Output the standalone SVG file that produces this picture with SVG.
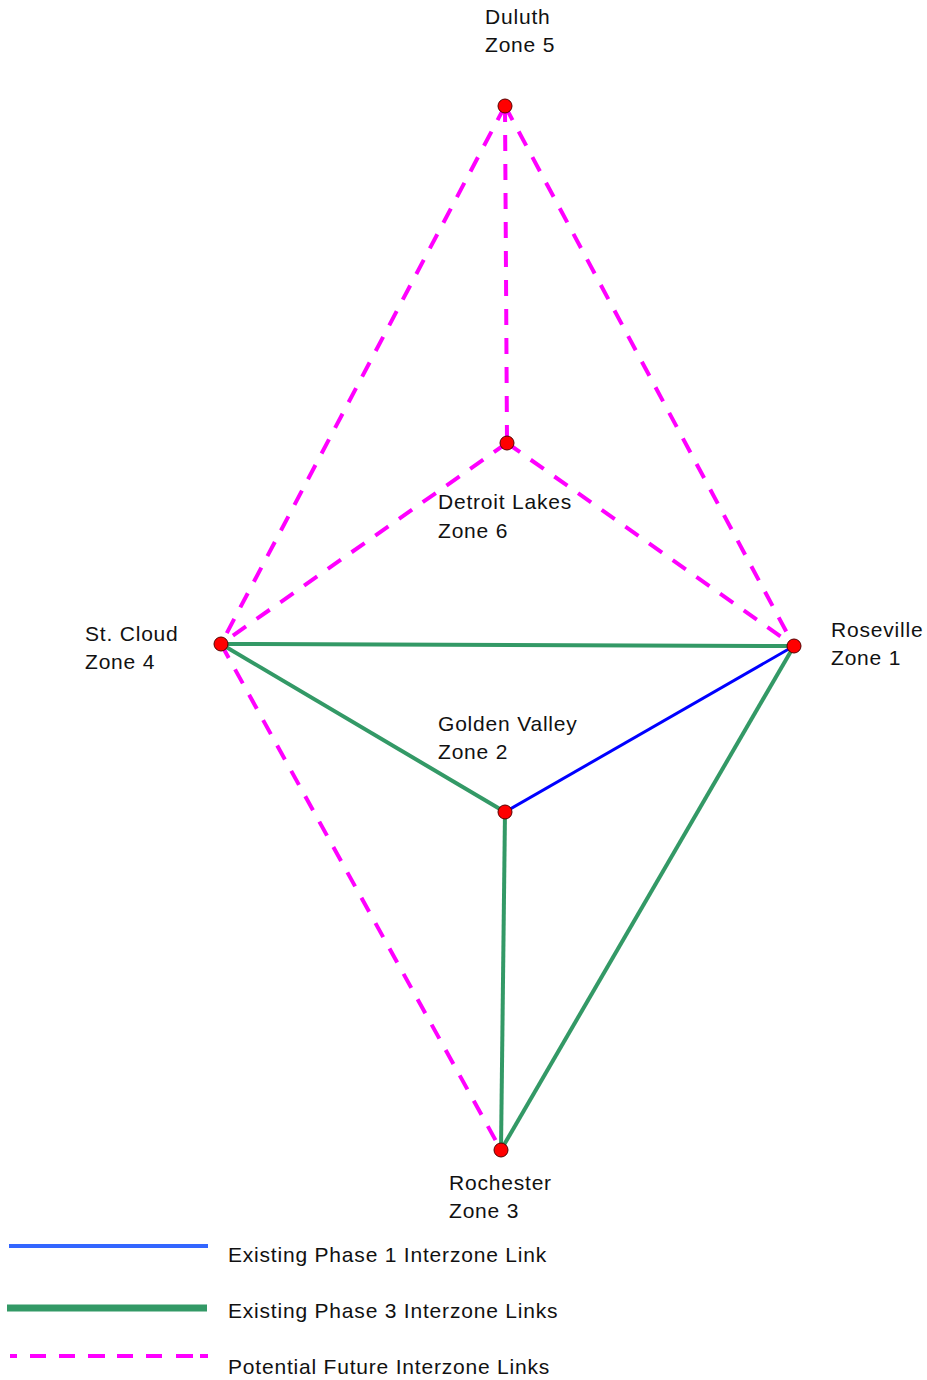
<svg xmlns="http://www.w3.org/2000/svg" width="927" height="1380" viewBox="0 0 927 1380">
<style>
text{font-family:"Liberation Sans",Arial,sans-serif;font-size:21px;letter-spacing:0.8px;fill:#111}
.fut{stroke:#ff00ff;stroke-width:4;stroke-dasharray:16 13;fill:none}
.p3{stroke:#339966;stroke-width:4;fill:none}
.p1{stroke:#0000ff;stroke-width:3;fill:none}
.node{fill:#ff0000;stroke:#550000;stroke-width:1}
</style>
<rect width="927" height="1380" fill="#fff"/>
<g id="connectors">
<line class="fut" x1="505" y1="106" x2="221" y2="644"/>
<line class="fut" x1="505" y1="106" x2="507" y2="443"/>
<line class="fut" x1="505" y1="106" x2="794" y2="646"/>
<line class="fut" x1="507" y1="443" x2="221" y2="644"/>
<line class="fut" x1="507" y1="443" x2="794" y2="646"/>
<line class="fut" x1="221" y1="644" x2="501" y2="1150"/>
<line class="p3" x1="221" y1="644" x2="794" y2="646"/>
<line class="p3" x1="221" y1="644" x2="505" y2="812"/>
<line class="p3" x1="505" y1="812" x2="501" y2="1150"/>
<line class="p3" x1="794" y1="646" x2="501" y2="1150"/>
<line class="p1" x1="505" y1="812" x2="794" y2="646"/>
</g>
<g id="duluth"><circle class="node" cx="505" cy="106" r="7"/><text x="485" y="24">Duluth</text><text x="485" y="52">Zone 5</text></g>
<g id="detroit-lakes"><circle class="node" cx="507" cy="443" r="7"/><text x="438" y="509">Detroit Lakes</text><text x="438" y="538">Zone 6</text></g>
<g id="st-cloud"><circle class="node" cx="221" cy="644" r="7"/><text x="85" y="641">St. Cloud</text><text x="85" y="669">Zone 4</text></g>
<g id="roseville"><circle class="node" cx="794" cy="646" r="7"/><text x="831" y="637">Roseville</text><text x="831" y="665">Zone 1</text></g>
<g id="golden-valley"><circle class="node" cx="505" cy="812" r="7"/><text x="438" y="731">Golden Valley</text><text x="438" y="759">Zone 2</text></g>
<g id="rochester"><circle class="node" cx="501" cy="1150" r="7"/><text x="449" y="1190">Rochester</text><text x="449" y="1218">Zone 3</text></g>
<g id="legend">
<line x1="9" y1="1246" x2="208" y2="1246" stroke="#3366ff" stroke-width="4"/>
<text x="228" y="1262">Existing Phase 1 Interzone Link</text>
<line x1="7" y1="1308" x2="207" y2="1308" stroke="#339966" stroke-width="7"/>
<text x="228" y="1318">Existing Phase 3 Interzone Links</text>
<line x1="10" y1="1356" x2="208" y2="1356" stroke="#ff00ff" stroke-width="4" stroke-dasharray="7 13 16 13 16 13 17 12 16 13 16 14 17"/>
<text x="228" y="1374">Potential Future Interzone Links</text>
</g>
</svg>
